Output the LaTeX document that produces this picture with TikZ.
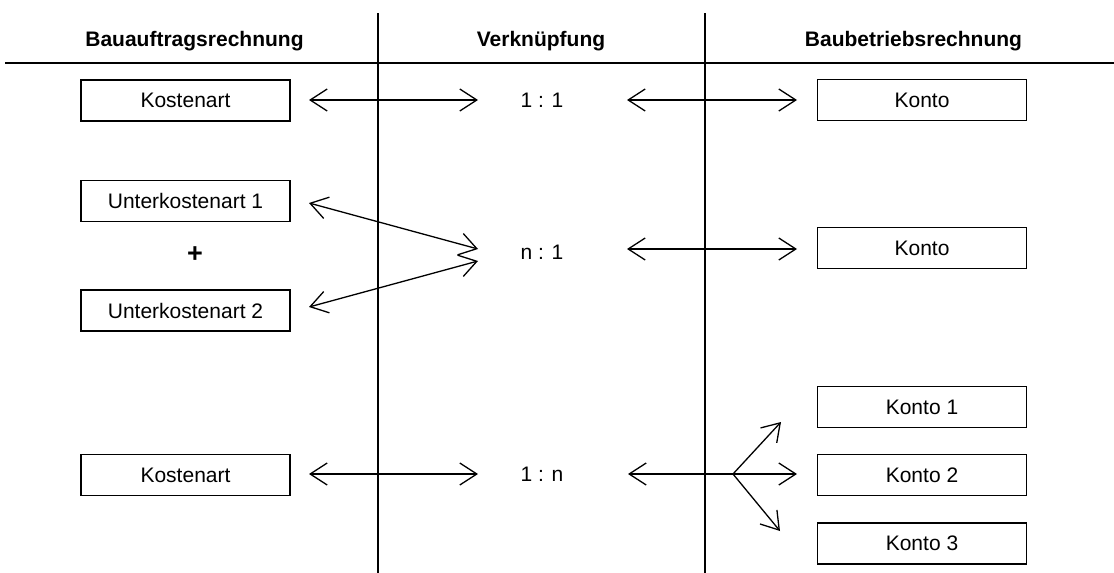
\documentclass[tikz,border=0pt]{standalone}
\usepackage{fontspec}
\setmainfont{Liberation Sans}
\usetikzlibrary{arrows.meta}
\begin{document}
\begin{tikzpicture}[x=1pt,y=-1pt,
  txt/.style={font=\fontsize{21}{25}\selectfont, inner sep=0pt},
  head/.style={font=\bfseries\fontsize{21}{25}\selectfont, inner sep=0pt, anchor=base},
  box/.style={txt, draw, line width=1.5pt, minimum width=209pt, minimum height=41pt},
  rulev/.style={line width=1.6pt},
  ruleh/.style={line width=2.4pt},
  barb/.tip={Straight Barb[length=17pt,width=22pt]},
  both/.style={line width=1.3pt, barb-barb},
  fwd/.style={line width=1.3pt, -barb},
  back/.style={line width=1.3pt, barb-}
]
\useasboundingbox (0,0) rectangle (1114,573);

% column dividers and header rule
\coordinate (v1t) at (378,13);  \coordinate (v1b) at (378,573);
\coordinate (v2t) at (705,13);  \coordinate (v2b) at (705,573);
\coordinate (hl)  at (5,63);    \coordinate (hr)  at (1114,63);
\draw[rulev] (v1t) -- (v1b);
\draw[rulev] (v2t) -- (v2b);
\draw[ruleh] (hl) -- (hr);

% headings
\node[head] (h1) at (194.5,46) {Bauauftragsrechnung};
\node[head] (h2) at (541,46) {Verknüpfung};
\node[head] (h3) at (913.5,46) {Baubetriebsrechnung};

% left column
\node[box] (ka1) at (185.5,100.5) {Kostenart};
\node[box] (uk1) at (185.5,201) {Unterkostenart 1};
\node[inner sep=0pt, font=\bfseries\fontsize{27}{30}\selectfont] (plus) at (195,255) {+};
\node[box] (uk2) at (185.5,310.5) {Unterkostenart 2};
\node[box] (ka3) at (185.5,475) {Kostenart};

% middle column
\node[txt] (r1) at (542,100) {1 : 1};
\node[txt] (r2) at (542,252) {n : 1};
\node[txt] (r3) at (542,474) {1 : n};

% right column
\node[box] (ko1)  at (922,100) {Konto};
\node[box] (ko2)  at (922,248) {Konto};
\node[box] (ko31) at (922,407) {Konto 1};
\node[box] (ko32) at (922,475) {Konto 2};
\node[box] (ko33) at (922,543.5) {Konto 3};

% arrow end points
\coordinate (a1l) at (309,100);  \coordinate (a1r) at (478,100);
\coordinate (b1l) at (627,100);  \coordinate (b1r) at (797,100);
\coordinate (a2u) at (309,203);  \coordinate (a2ut) at (478,249);
\coordinate (a2d) at (309,307);  \coordinate (a2dt) at (478,261);
\coordinate (b2l) at (627,249);  \coordinate (b2r) at (797,249);
\coordinate (a3l) at (309,474);  \coordinate (a3r) at (478,474);
\coordinate (b3l) at (628,474);  \coordinate (fork) at (733,474);
\coordinate (f1) at (781,422);   \coordinate (f2) at (797,474);
\coordinate (f3) at (780,531);

% row 1
\draw[both] (a1l) -- (a1r);
\draw[both] (b1l) -- (b1r);
% row 2
\draw[both] (a2u) -- (a2ut);
\draw[both] (a2d) -- (a2dt);
\draw[both] (b2l) -- (b2r);
% row 3
\draw[both] (a3l) -- (a3r);
\draw[back] (b3l) -- (fork);
\draw[fwd] (fork) -- (f1);
\draw[fwd] (fork) -- (f2);
\draw[fwd] (fork) -- (f3);
\end{tikzpicture}
\end{document}
